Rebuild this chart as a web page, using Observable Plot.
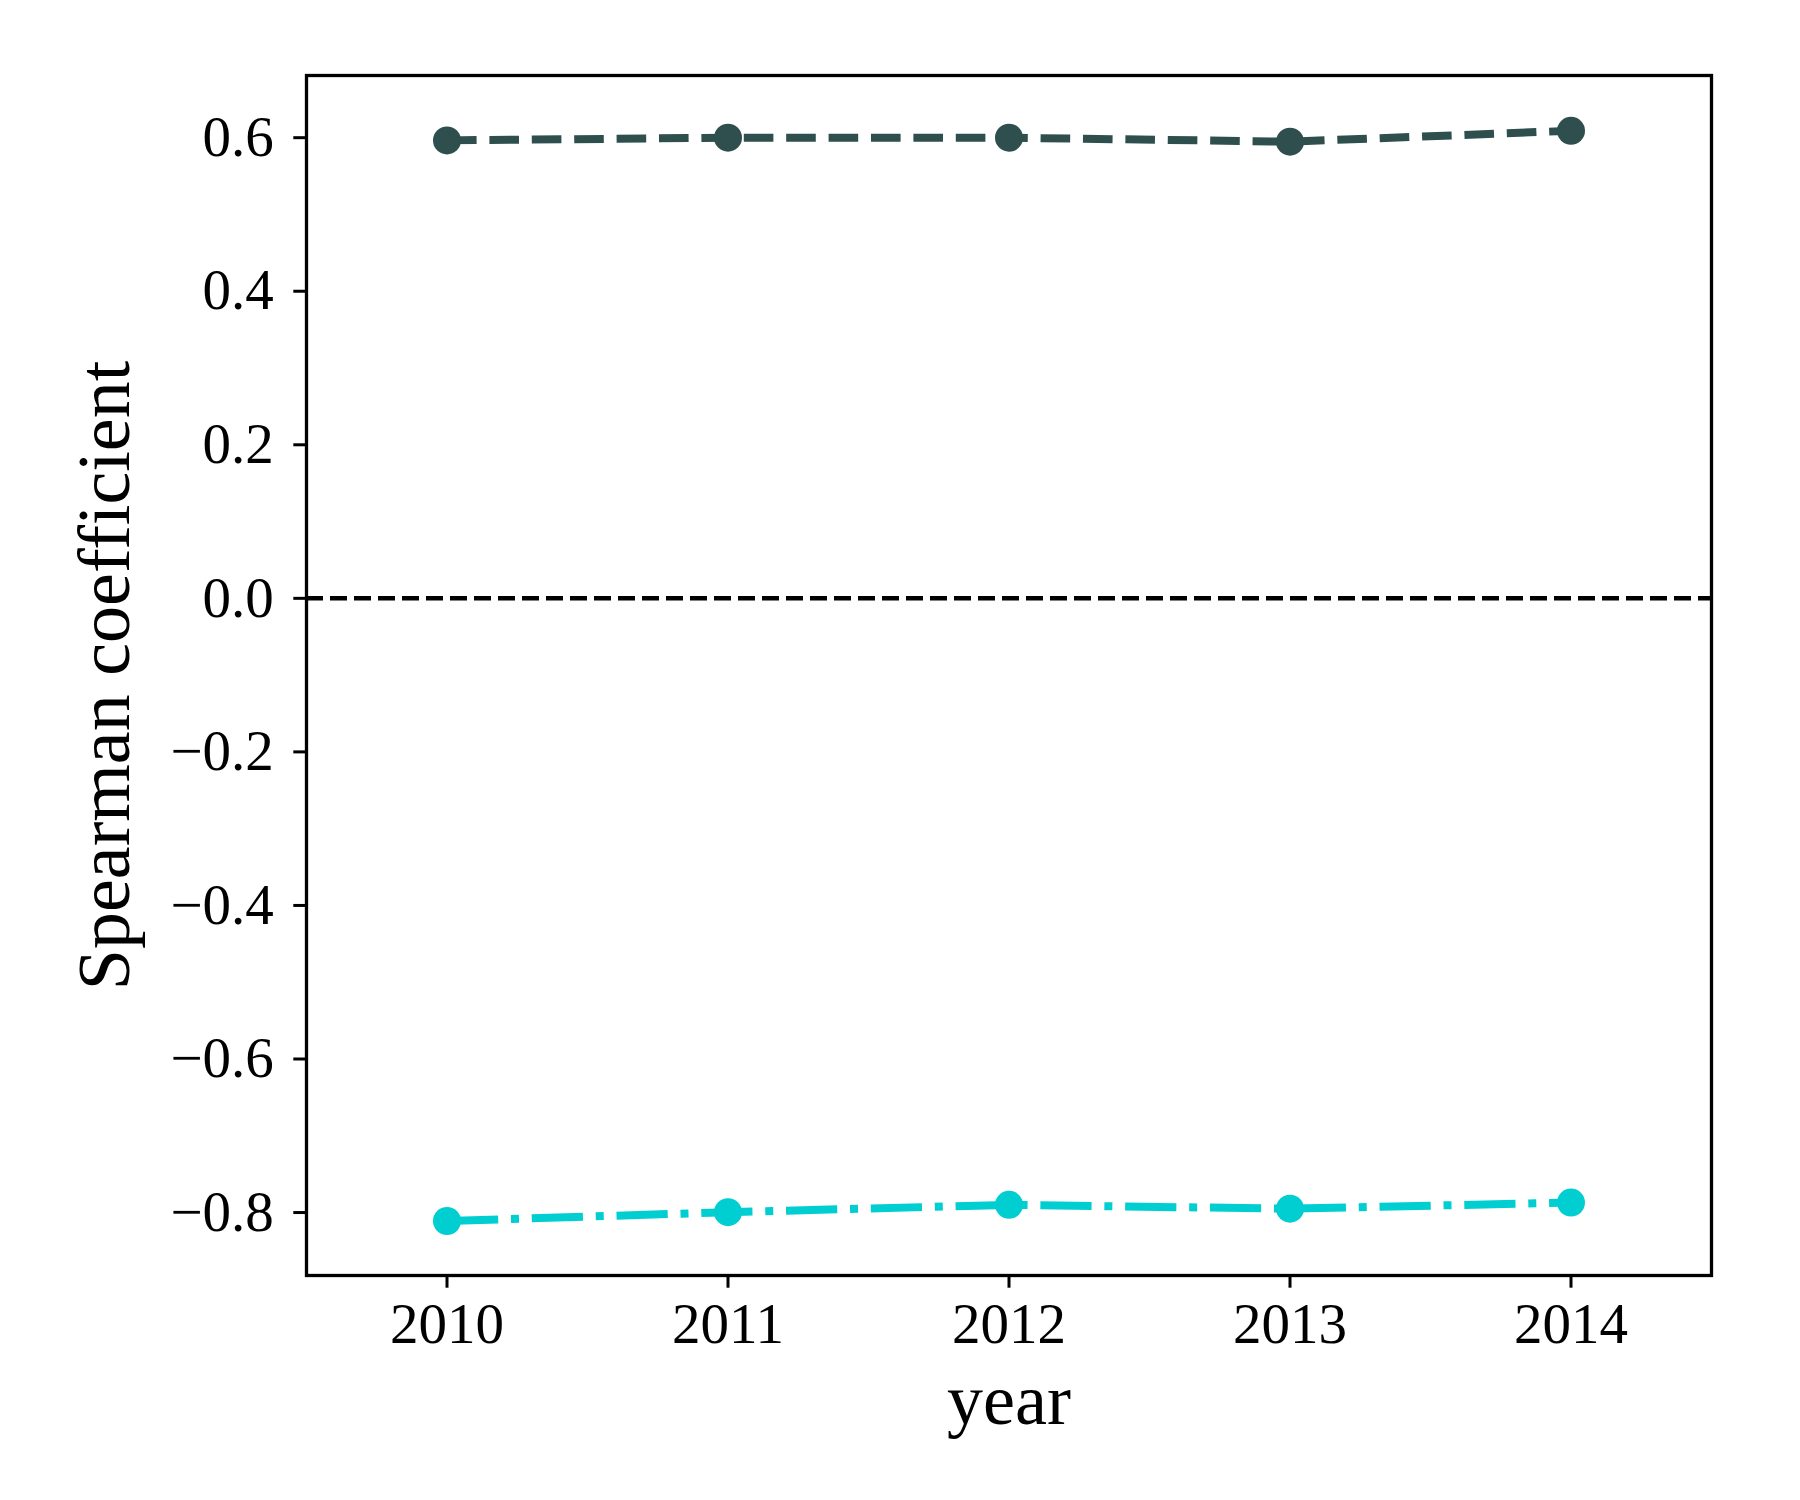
<!DOCTYPE html>
<html>
<head>
<meta charset="utf-8">
<script src="https://cdn.jsdelivr.net/npm/d3@7"></script>
<script src="https://cdn.jsdelivr.net/npm/@observablehq/plot@0.6"></script>
<style>
  html, body { margin: 0; padding: 0; background: #ffffff; }
</style>
</head>
<body>
<div id="chart"></div>
<script>
// Data
const years = [2010, 2011, 2012, 2013, 2014];
const upperSeries = [0.5965, 0.600, 0.600, 0.5948, 0.609];
const lowerSeries = [-0.811, -0.7995, -0.790, -0.795, -0.787];
const yTicks = [-0.8, -0.6, -0.4, -0.2, 0.0, 0.2, 0.4, 0.6];
const xTicks = [2010, 2011, 2012, 2013, 2014];
const xLabel = "year";
const yLabel = "Spearman coefficient";

const upper = years.map((year, i) => ({year, value: upperSeries[i]}));
const lower = years.map((year, i) => ({year, value: lowerSeries[i]}));

const font = "'Liberation Serif', 'DejaVu Serif', serif";
const upperColor = "#2f4f4f";
const lowerColor = "#00ced1";

const chart = Plot.plot({
  width: 1800,
  height: 1500,
  marginLeft: 306,
  marginRight: 89,
  marginTop: 75,
  marginBottom: 225,
  style: {fontFamily: font, fontSize: "57px", background: "#ffffff", color: "#000000"},
  x: {domain: [2009.5, 2014.5]},
  y: {domain: [-0.882, 0.681]},
  marks: [
    Plot.ruleY([0], {stroke: "#000000", strokeWidth: 4.5, strokeDasharray: "17,7"}),
    Plot.line(upper, {x: "year", y: "value", stroke: upperColor, strokeWidth: 8,
      strokeDasharray: "29.6,12.8", strokeLinecap: "butt", strokeLinejoin: "round"}),
    Plot.line(lower, {x: "year", y: "value", stroke: lowerColor, strokeWidth: 8,
      strokeDasharray: "51.2,12.8,8,12.8", strokeLinecap: "butt", strokeLinejoin: "round"}),
    Plot.dot(upper, {x: "year", y: "value", r: 14, fill: upperColor, stroke: null}),
    Plot.dot(lower, {x: "year", y: "value", r: 14, fill: lowerColor, stroke: null}),
    Plot.frame({stroke: "#000000", strokeWidth: 3.3}),
    Plot.axisX({ticks: xTicks, tickFormat: d => String(d), tickSize: 12.7, tickPadding: 14,
      strokeWidth: 3, fontSize: 57, label: null}),
    Plot.axisY({ticks: yTicks, tickFormat: d3.format(".1f"), tickSize: 12.7, tickPadding: 20,
      strokeWidth: 3, fontSize: 57, label: null}),
    Plot.text([xLabel], {frameAnchor: "bottom", dy: 148, lineAnchor: "bottom",
      textAnchor: "middle", fontSize: 72, fill: "#000000"}),
    Plot.text([yLabel], {frameAnchor: "left", dx: -178, rotate: -90, lineAnchor: "bottom",
      textAnchor: "middle", fontSize: 74, fill: "#000000"})
  ]
});
document.getElementById("chart").appendChild(chart);
</script>
</body>
</html>
